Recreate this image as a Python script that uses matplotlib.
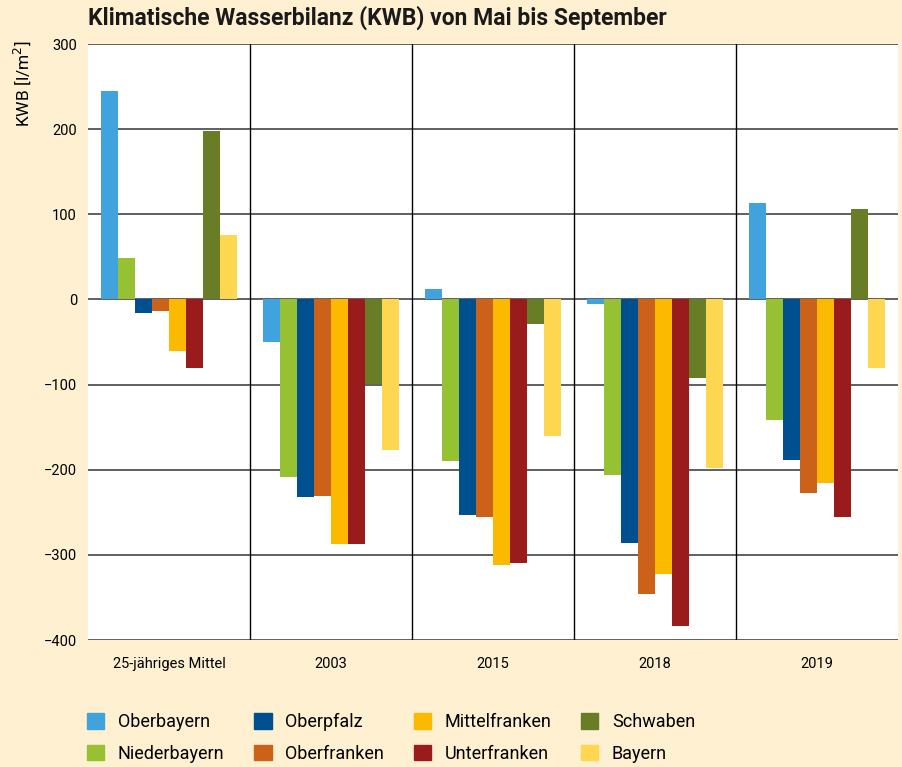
import numpy as np
import matplotlib.pyplot as plt
from matplotlib.patches import Patch

plt.rcParams['font.family'] = ['Roboto', 'DejaVu Sans']

gruppen = ['25-jähriges Mittel', '2003', '2015', '2018', '2019']
regionen = ['Oberbayern', 'Niederbayern', 'Oberpfalz', 'Oberfranken',
            'Mittelfranken', 'Unterfranken', 'Schwaben', 'Bayern']
farben = ['#41A3DD', '#95C132', '#00508F', '#CC6119',
          '#FBB900', '#9A1B1C', '#687D26', '#FFD64F']

# KWB in l/m², je Region: Werte für Mittel, 2003, 2015, 2018, 2019
oberbayern = [245, -50, 12, -5, 113]
niederbayern = [49, -208, -190, -206, -142]
oberpfalz = [-16, -232, -253, -286, -189]
oberfranken = [-14, -231, -255, -346, -227]
mittelfranken = [-60, -287, -312, -322, -216]
unterfranken = [-80, -287, -310, -384, -256]
schwaben = [198, -99, -29, -92, 106]
bayern = [76, -177, -160, -198, -80]

werte = [oberbayern, niederbayern, oberpfalz, oberfranken,
         mittelfranken, unterfranken, schwaben, bayern]

bg = '#FEF0D0'
fig = plt.figure(figsize=(9.02, 7.67), dpi=100, facecolor=bg)
ax = fig.add_axes([88/902, 1-640/767, 810/902, 596/767])
ax.set_facecolor('white')

n = len(regionen)
breite = 0.845 / n
x = np.arange(len(gruppen))
for i, (name, w, c) in enumerate(zip(regionen, werte, farben)):
    ax.bar(x - 0.845/2 + breite*(i+0.5), w, breite, color=c, label=name, zorder=3)

ax.set_xlim(-0.5, len(gruppen)-0.5)
ax.set_ylim(-400, 300)
ax.set_yticks(range(-400, 301, 100))
ax.set_yticklabels([str(v).replace('-', '\u2212') for v in range(-400, 301, 100)], fontsize=10.5)
ax.set_xticks(x)
ax.set_xticklabels(gruppen, fontsize=10.5)
ax.tick_params(length=0, pad=8)
ax.tick_params(axis='x', pad=12)

for y in range(-400, 301, 100):
    ax.axhline(y, color='#444444', lw=1.2, zorder=1)
for g in range(1, len(gruppen)):
    ax.axvline(g - 0.5, color='black', lw=1, zorder=1)
for s in ax.spines.values():
    s.set_visible(False)

fig.text(88/902, 1-18/767, 'Klimatische Wasserbilanz (KWB) von Mai bis September',
         fontsize=16.5, fontweight='bold', va='center', ha='left', color='#1a1a1a')
fig.text(22/902, 1-41/767, 'KWB [l/m$^2$]', rotation=90, va='top', ha='center', fontsize=12.5)

handles = [Patch(color=c) for c in farben]
fig.legend(handles, regionen, ncol=4, loc='upper left', bbox_to_anchor=(71/902, 1-697/767),
           frameon=False, fontsize=13, handlelength=0.95, handleheight=0.95,
           handletextpad=0.75, columnspacing=1.65, labelspacing=0.75)

fig.savefig('out.png', dpi=100, facecolor=bg)
